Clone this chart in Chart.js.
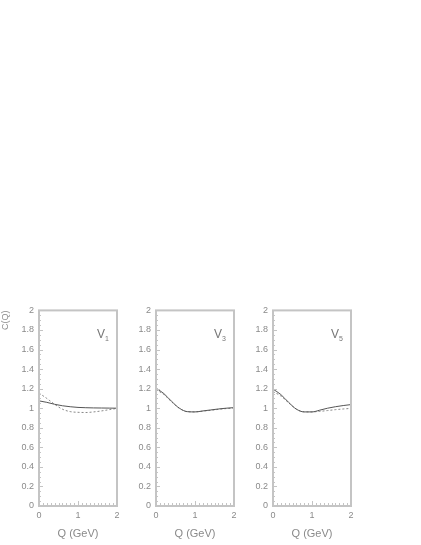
<!DOCTYPE html>
<html>
<head>
  <script src="https://cdn.jsdelivr.net/npm/chart.js@4.4.1/dist/chart.umd.min.js"></script>
<style>
  body { margin: 0; background: #fff; width: 421px; height: 545px; position: relative; overflow: hidden; }
  .pane { position: absolute; top: 300px; width: 125px; height: 245px; }
  .lbl { position: absolute; font-family: "Liberation Sans", sans-serif; font-size: 12px; color: #777; }
  .lbl sub { font-size: 7px; vertical-align: -3px; }
</style>
</head>
<body>
  <div class="pane" style="left:0px"><canvas id="c1" width="125" height="245"></canvas></div>
  <div class="pane" style="left:117px"><canvas id="c2" width="125" height="245"></canvas></div>
  <div class="pane" style="left:234px"><canvas id="c3" width="125" height="245"></canvas></div>
  <div class="lbl" style="left:97px;top:327px">V<sub>1</sub></div>
  <div class="lbl" style="left:214px;top:327px">V<sub>3</sub></div>
  <div class="lbl" style="left:331px;top:327px">V<sub>5</sub></div>
  <script>
    var qValues = [0, 0.2, 0.4, 0.6, 0.8, 1.0, 1.2, 1.4, 1.6, 1.8, 2.0];

    var v1Solid  = [1.075, 1.06, 1.04, 1.025, 1.015, 1.008, 1.005, 1.003, 1.002, 1.001, 1.0];
    var v1Dashed = [1.155, 1.10, 1.04, 0.99, 0.965, 0.958, 0.956, 0.962, 0.972, 0.985, 0.998];

    var v3Solid  = [1.205, 1.15, 1.07, 1.00, 0.965, 0.962, 0.972, 0.982, 0.992, 1.0, 1.006];
    var v3Dashed = [1.19, 1.14, 1.065, 0.998, 0.964, 0.962, 0.97, 0.978, 0.988, 0.996, 1.0];

    var v5Solid  = [1.195, 1.14, 1.06, 0.99, 0.962, 0.962, 0.98, 1.0, 1.015, 1.027, 1.037];
    var v5Dashed = [1.17, 1.125, 1.055, 0.99, 0.963, 0.962, 0.968, 0.976, 0.985, 0.992, 0.998];

    var yTicks = [0, 0.2, 0.4, 0.6, 0.8, 1, 1.2, 1.4, 1.6, 1.8, 2];
    var xTicks = [0, 1, 2];

    var grey = '#8a8a8a';
    var frame = '#c4c4c4';

    // minor ticks inside the frame + frame itself
    var frameTicks = {
      id: 'frameTicks',
      afterDraw: function (chart) {
        var c = chart.ctx, a = chart.chartArea;
        var xs = chart.scales.x, ys = chart.scales.y;
        c.save();
        c.strokeStyle = frame;
        c.lineWidth = 1;
        for (var i = 0; i <= 40; i++) {
          var v = i * 0.05;
          var py = Math.round(ys.getPixelForValue(v)) + 0.5;
          var len = (i % 4 === 0) ? 4 : 2;
          c.beginPath(); c.moveTo(a.left, py); c.lineTo(a.left + len, py); c.stroke();
        }
        for (var j = 0; j <= 20; j++) {
          var px = Math.round(xs.getPixelForValue(j * 0.1)) + 0.5;
          var l2 = (j % 10 === 0) ? 5 : 3;
          c.beginPath(); c.moveTo(px, a.bottom); c.lineTo(px, a.bottom - l2); c.stroke();
        }
        c.lineWidth = 2;
        c.strokeRect(a.left, a.top, a.right - a.left, a.bottom - a.top);
        c.restore();
      }
    };

    function fmt(v) { return String(Math.round(v * 10) / 10); }

    function makePanel(id, solid, dashed, showTitle) {
      new Chart(document.getElementById(id), {
        type: 'line',
        data: {
          datasets: [
            { data: qValues.map(function (q, i) { return { x: q, y: solid[i] }; }),
              borderColor: '#555', borderWidth: 1, pointRadius: 0, cubicInterpolationMode: 'monotone', fill: false },
            { data: qValues.map(function (q, i) { return { x: q, y: dashed[i] }; }),
              borderColor: '#888', borderWidth: 1, borderDash: [2, 2], pointRadius: 0, cubicInterpolationMode: 'monotone', fill: false }
          ]
        },
        options: {
          responsive: false,
          animation: false,
          layout: { padding: { top: 10, right: 8, left: 0, bottom: 0 } },
          plugins: { legend: { display: false }, tooltip: { enabled: false } },
          scales: {
            x: {
              type: 'linear', min: 0, max: 2,
              grid: { display: false, drawTicks: false },
              border: { display: false },
              afterBuildTicks: function (s) { s.ticks = xTicks.map(function (v) { return { value: v }; }); },
              ticks: { color: grey, font: { family: 'Liberation Sans', size: 9 }, padding: 4, maxRotation: 0, callback: fmt },
              title: { display: true, text: 'Q (GeV)', color: grey, font: { family: 'Liberation Sans', size: 11 }, padding: { top: 3 } },
              afterFit: function (s) { s.height = 39; }
            },
            y: {
              type: 'linear', min: 0, max: 2,
              grid: { display: false, drawTicks: false },
              border: { display: false },
              afterBuildTicks: function (s) { s.ticks = yTicks.map(function (v) { return { value: v }; }); },
              ticks: { color: grey, font: { family: 'Liberation Sans', size: 9 }, padding: 5, callback: fmt },
              title: { display: showTitle, text: 'C(Q)', align: 'end', color: grey, font: { family: 'Liberation Sans', size: 9 }, padding: 0 },
              afterFit: function (s) { s.width = 39; }
            }
          }
        },
        plugins: [frameTicks]
      });
    }

    makePanel('c1', v1Solid, v1Dashed, true);
    makePanel('c2', v3Solid, v3Dashed, false);
    makePanel('c3', v5Solid, v5Dashed, false);
  </script>
</body>
</html>
